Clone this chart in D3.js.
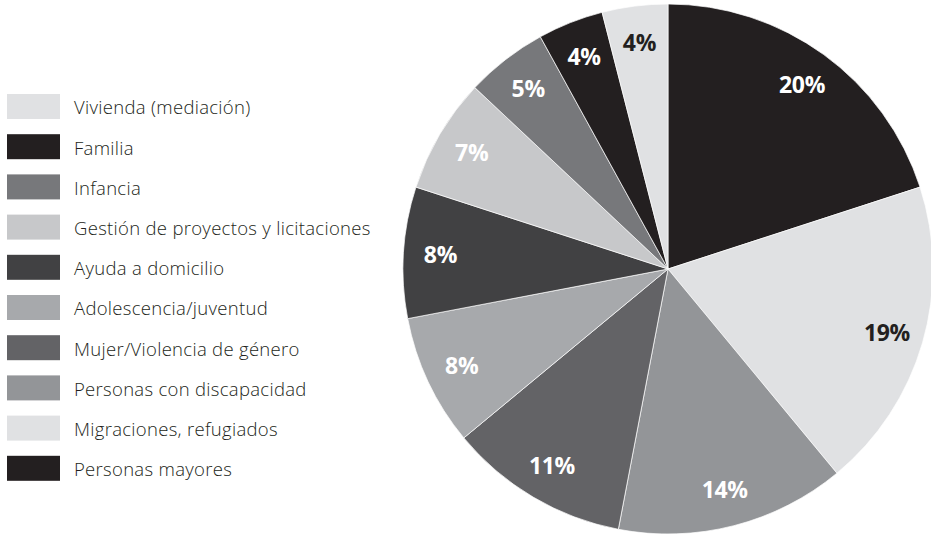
<!DOCTYPE html>
<html>
<head>
<meta charset="utf-8">
<script src="https://cdn.jsdelivr.net/npm/d3@7"></script>
<style>
  body { margin: 0; background: #fff; }
</style>
</head>
<body>
<div id="chart"></div>
<script>
// slices, clockwise from 12 o'clock
const categories = [
    "Personas mayores",
    "Migraciones, refugiados",
    "Personas con discapacidad",
    "Mujer/Violencia de género",
    "Adolescencia/juventud",
    "Ayuda a domicilio",
    "Gestión de proyectos y licitaciones",
    "Infancia",
    "Familia",
    "Vivienda (mediación)"
];
const values = [20, 19, 14, 11, 8, 8, 7, 5, 4, 4];
const colors = ["#231f20", "#e0e1e3", "#939598", "#636366", "#a7a9ac",
                "#414143", "#c7c8ca", "#77787b", "#231f20", "#e0e1e3"];
const darkText = ["Migraciones, refugiados", "Vivienda (mediación)"];

const width = 931, height = 539;
const cx = 668, cy = 269, radius = 265;

const svg = d3.select("#chart")
    .append("svg")
    .attr("width", width)
    .attr("height", height);

const data = categories.map(function(c, i) {
    return { name: c, value: values[i], color: colors[i] };
});

const pie = d3.pie()
    .sort(null)
    .value(d => d.value);

const arc = d3.arc()
    .innerRadius(0)
    .outerRadius(radius);

const labelArc = d3.arc()
    .innerRadius(228)
    .outerRadius(228);

const g = svg.append("g")
    .attr("transform", "translate(" + cx + "," + cy + ")");

g.selectAll("path")
    .data(pie(data))
    .enter()
    .append("path")
    .attr("d", arc)
    .attr("fill", d => d.data.color)
    .attr("stroke", "#fff")
    .attr("stroke-width", 0.7);

g.selectAll("text.pct")
    .data(pie(data))
    .enter()
    .append("text")
    .attr("class", "pct")
    .attr("transform", d => "translate(" + labelArc.centroid(d) + ")")
    .attr("text-anchor", "middle")
    .attr("dy", "0.36em")
    .style("font-family", "'Open Sans', sans-serif")
    .style("font-weight", "bold")
    .style("font-size", "23px")
    .style("letter-spacing", "-0.3px")
    .attr("fill", d => darkText.includes(d.data.name) ? "#231f20" : "#fff")
    .text(d => d.data.value + "%");

// legend, reverse order
const legendItems = data.slice().reverse();
const legend = svg.append("g")
    .attr("transform", "translate(7,94)");

const row = legend.selectAll("g")
    .data(legendItems)
    .enter()
    .append("g")
    .attr("transform", (d, i) => "translate(0," + (i * 40.2) + ")");

row.append("rect")
    .attr("width", 53)
    .attr("height", 25)
    .attr("fill", d => d.color);

row.append("text")
    .attr("x", 67)
    .attr("y", 14)
    .attr("dy", "0.35em")
    .style("font-family", "'Open Sans', sans-serif")
    .style("font-weight", 300)
    .style("font-size", "18.5px")
    .style("letter-spacing", "0.3px")
    .attr("fill", "#231f20")
    .text(d => d.name);
</script>
</body>
</html>
